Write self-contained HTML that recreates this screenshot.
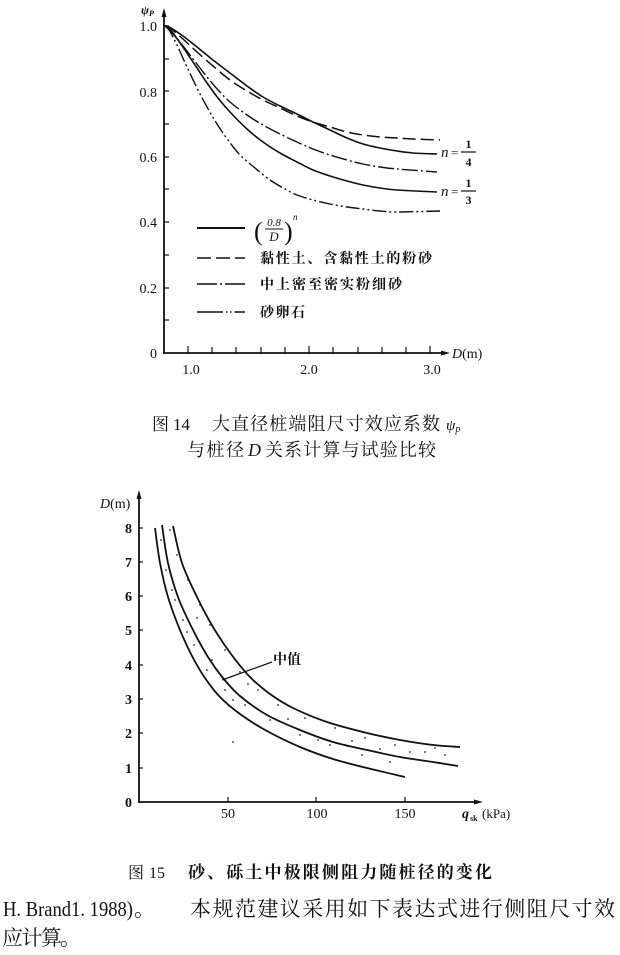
<!DOCTYPE html>
<html><head><meta charset="utf-8"><style>
html,body{margin:0;padding:0;background:#fff;}
svg{display:block;}
.t{font-family:"Liberation Serif","Noto Serif CJK SC",serif;fill:#111;}
.c{font-family:"Liberation Serif","Noto Serif CJK SC",serif;fill:#111;}
.b{font-family:"Liberation Serif","Noto Serif CJK SC",serif;fill:#111;font-weight:bold;}
</style></head><body>
<svg id="sv" width="620" height="955" viewBox="0 0 620 955" xmlns="http://www.w3.org/2000/svg">
<rect width="620" height="955" fill="#fff"/>

<!-- ===== TOP CHART ===== -->
<g stroke="#111" fill="none">
  <line x1="164" y1="354" x2="164" y2="14" stroke-width="1.8"/>
  <polygon points="164,8 161.5,17 166.5,17" fill="#111" stroke="none"/>
  <line x1="163" y1="353" x2="444" y2="353" stroke-width="1.8"/>
  <polygon points="450,353 441,350.5 441,355.5" fill="#111" stroke="none"/>
  <g stroke-width="1.2">
    <line x1="164" y1="320" x2="169" y2="320"/>
    <line x1="164" y1="288" x2="169" y2="288"/>
    <line x1="164" y1="255" x2="169" y2="255"/>
    <line x1="164" y1="222" x2="169" y2="222"/>
    <line x1="164" y1="189" x2="169" y2="189"/>
    <line x1="164" y1="157" x2="169" y2="157"/>
    <line x1="164" y1="124" x2="169" y2="124"/>
    <line x1="164" y1="91" x2="169" y2="91"/>
    <line x1="164" y1="59" x2="169" y2="59"/>
    <line x1="164" y1="26" x2="169" y2="26"/>
  </g>
  <g stroke-width="1.2">
    <line x1="188" y1="346" x2="188" y2="353"/>
    <line x1="212" y1="347" x2="212" y2="353"/>
    <line x1="236" y1="347" x2="236" y2="353"/>
    <line x1="261" y1="347" x2="261" y2="353"/>
    <line x1="285" y1="347" x2="285" y2="353"/>
    <line x1="309" y1="346" x2="309" y2="353"/>
    <line x1="333" y1="347" x2="333" y2="353"/>
    <line x1="358" y1="347" x2="358" y2="353"/>
    <line x1="382" y1="347" x2="382" y2="353"/>
    <line x1="406" y1="347" x2="406" y2="353"/>
    <line x1="430" y1="346" x2="430" y2="353"/>
  </g>
  <polyline class="sm" stroke-width="1.6" points="165,26 169,27 183,36 197,47 213,60 230,73 247,86 263,97 280,106 297,114 313,122 330,130 347,138 363,144 380,148 397,151 413,153 437,154"/>
  <polyline class="sm" stroke-width="1.5" stroke-dasharray="13,5" points="165,26 169,27 183,39 197,52 213,66 230,80 247,91 263,100 280,108 297,116 313,122 330,127 347,132 363,135 380,137 397,138 413,139 440,140"/>
  <polyline class="sm" stroke-width="1.4" stroke-dasharray="16,3,2,3" points="165,26 169,28 180,42 190,55 200,68 207,77 218,90 230,102 247,115 263,125 280,134 297,142 313,149 330,155 347,160 363,164 380,167 397,169 437,172"/>
  <polyline class="sm" stroke-width="1.6" points="165,26 169,29 178,40 187,53 197,68 207,83 218,98 230,112 247,129 263,142 280,153 297,162 313,170 330,176 347,181 363,185 380,188 397,190 437,192"/>
  <polyline class="sm" stroke-width="1.4" stroke-dasharray="14,3,2,3,2,3" points="165,26 169,30 173,37 177,45 182,56 187,67 197,88 207,107 217,124 228,140 240,155 255,168 270,180 285,189 297,195 313,200 330,204 347,207 363,209 380,211 397,212 440,211"/>
  <line x1="197" y1="228" x2="245" y2="228" stroke-width="2"/>
  <line x1="197" y1="258" x2="245" y2="258" stroke-width="1.4" stroke-dasharray="14,5"/>
  <line x1="197" y1="284" x2="245" y2="284" stroke-width="1.4" stroke-dasharray="20,3,2,3"/>
  <line x1="197" y1="312" x2="245" y2="312" stroke-width="1.4" stroke-dasharray="26,3,1.5,2.5,1.5,3"/>
  <line x1="461" y1="152" x2="476" y2="152" stroke-width="1.2"/>
  <line x1="461" y1="191" x2="476" y2="191" stroke-width="1.2"/>
  <line x1="265" y1="229" x2="283" y2="229" stroke-width="1"/>
</g>

<text class="t" x="141" y="14" font-size="12" font-style="italic" font-weight="bold">ψ<tspan font-size="8" dy="2">P</tspan></text>
<g class="t" font-size="14" text-anchor="end">
  <text x="157" y="31">1.0</text>
  <text x="157" y="97">0.8</text>
  <text x="157" y="162">0.6</text>
  <text x="157" y="227">0.4</text>
  <text x="157" y="293">0.2</text>
  <text x="157" y="358">0</text>
</g>
<g class="t" font-size="14" text-anchor="middle">
  <text x="191" y="374">1.0</text>
  <text x="309" y="374">2.0</text>
  <text x="432" y="374">3.0</text>
</g>
<text class="t" x="452" y="358" font-size="14"><tspan font-style="italic">D</tspan>(m)</text>

<text class="t" x="441" y="157" font-size="15" font-style="italic">n</text>
<text class="t" x="451" y="157" font-size="13">=</text>
<text class="t" x="468.5" y="148" font-size="12" text-anchor="middle" font-weight="bold">1</text>
<text class="t" x="468.5" y="166" font-size="12" text-anchor="middle" font-weight="bold">4</text>
<text class="t" x="441" y="196" font-size="15" font-style="italic">n</text>
<text class="t" x="451" y="196" font-size="13">=</text>
<text class="t" x="468.5" y="187" font-size="12" text-anchor="middle" font-weight="bold">1</text>
<text class="t" x="468.5" y="204" font-size="12" text-anchor="middle" font-weight="bold">3</text>

<text class="t" x="254" y="240" font-size="26">(</text>
<text class="t" x="274" y="226" font-size="11" font-style="italic" text-anchor="middle">0.8</text>
<text class="t" x="274" y="241" font-size="13" font-style="italic" text-anchor="middle">D</text>
<text class="t" x="284" y="240" font-size="26">)</text>
<text class="t" x="293" y="220" font-size="9" font-style="italic">n</text>
<text class="b" x="260" y="263" font-size="14" textLength="172" lengthAdjust="spacing">黏性土、含黏性土的粉砂</text>
<text class="b" x="260" y="289" font-size="14" textLength="142" lengthAdjust="spacing">中上密至密实粉细砂</text>
<text class="b" x="260" y="317" font-size="14" textLength="45" lengthAdjust="spacing">砂卵石</text>

<text class="c" x="152" y="430" font-size="17">图</text>
<text class="c" x="173" y="430" font-size="17">14</text>
<text class="c" x="212" y="430" font-size="18" textLength="228" lengthAdjust="spacing">大直径桩端阻尺寸效应系数</text>
<text class="c" x="446" y="430" font-size="15" font-style="italic">ψ<tspan font-size="10" dy="2">p</tspan></text>
<text class="c" x="187" y="456" font-size="18" textLength="57" lengthAdjust="spacing">与桩径</text>
<text class="c" x="248" y="456" font-size="18" font-style="italic">D</text>
<text class="c" x="265" y="456" font-size="18" textLength="171" lengthAdjust="spacing">关系计算与试验比较</text>

<!-- ===== BOTTOM CHART ===== -->
<g stroke="#111" fill="none">
  <line x1="139" y1="803" x2="139" y2="497" stroke-width="1.8"/>
  <polygon points="139,490 136.5,499 141.5,499" fill="#111" stroke="none"/>
  <line x1="138" y1="802" x2="476" y2="802" stroke-width="1.8"/>
  <polygon points="483,802 474,799.5 474,804.5" fill="#111" stroke="none"/>
  <g stroke-width="1.2">
    <line x1="139" y1="768" x2="143" y2="768"/>
    <line x1="139" y1="733" x2="143" y2="733"/>
    <line x1="139" y1="699" x2="143" y2="699"/>
    <line x1="139" y1="665" x2="143" y2="665"/>
    <line x1="139" y1="630" x2="143" y2="630"/>
    <line x1="139" y1="596" x2="143" y2="596"/>
    <line x1="139" y1="562" x2="143" y2="562"/>
    <line x1="139" y1="528" x2="143" y2="528"/>
    <line x1="228" y1="797" x2="228" y2="802"/>
    <line x1="316" y1="797" x2="316" y2="802"/>
    <line x1="405" y1="797" x2="405" y2="802"/>
  </g>
  <polyline class="sm" stroke-width="1.8" points="155,528 160,563 168,597 180,630 192,656 205,678 220,697 240,714 267,731 300,747 333,759 367,768 405,777"/>
  <polyline class="sm" stroke-width="1.8" points="162,525 168,563 178,597 192,628 208,657 223,678 240,696 267,715 300,730 333,742 367,750 400,757 433,762 458,766"/>
  <polyline class="sm" stroke-width="1.8" points="173,526 182,563 197,597 213,627 231,654 250,677 270,694 293,708 327,722 367,733 400,740 433,745 460,747"/>
  <line x1="222" y1="680" x2="272" y2="662" stroke-width="1.2"/>
</g>
<g fill="#222">
  <circle cx="161" cy="540" r="0.9"/><circle cx="166" cy="570" r="0.9"/><circle cx="175" cy="600" r="0.9"/>
  <circle cx="183" cy="620" r="0.9"/><circle cx="194" cy="645" r="0.9"/><circle cx="207" cy="670" r="0.9"/>
  <circle cx="225" cy="690" r="0.9"/><circle cx="245" cy="705" r="0.9"/><circle cx="270" cy="720" r="0.9"/>
  <circle cx="300" cy="735" r="0.9"/><circle cx="330" cy="745" r="0.9"/><circle cx="362" cy="755" r="0.9"/>
  <circle cx="390" cy="762" r="0.9"/><circle cx="170" cy="530" r="0.9"/><circle cx="177" cy="555" r="0.9"/>
  <circle cx="188" cy="580" r="0.9"/><circle cx="200" cy="605" r="0.9"/><circle cx="210" cy="625" r="0.9"/>
  <circle cx="225" cy="650" r="0.9"/><circle cx="240" cy="672" r="0.9"/><circle cx="258" cy="690" r="0.9"/>
  <circle cx="278" cy="705" r="0.9"/><circle cx="305" cy="718" r="0.9"/><circle cx="335" cy="728" r="0.9"/>
  <circle cx="365" cy="738" r="0.9"/><circle cx="395" cy="745" r="0.9"/><circle cx="425" cy="752" r="0.9"/>
  <circle cx="445" cy="755" r="0.9"/><circle cx="172" cy="590" r="0.9"/><circle cx="187" cy="632" r="0.9"/>
  <circle cx="212" cy="660" r="0.9"/><circle cx="233" cy="700" r="0.9"/><circle cx="262" cy="712" r="0.9"/>
  <circle cx="318" cy="740" r="0.9"/><circle cx="352" cy="741" r="0.9"/><circle cx="380" cy="749" r="0.9"/>
  <circle cx="410" cy="752" r="0.9"/><circle cx="288" cy="719" r="0.9"/><circle cx="248" cy="684" r="0.9"/>
  <circle cx="197" cy="618" r="0.9"/><circle cx="233" cy="742" r="0.9"/><circle cx="435" cy="748" r="0.9"/>
</g>
<g class="t" font-size="14" text-anchor="end" font-weight="bold">
  <text x="132" y="533">8</text>
  <text x="132" y="567">7</text>
  <text x="132" y="601">6</text>
  <text x="132" y="635">5</text>
  <text x="132" y="670">4</text>
  <text x="132" y="704">3</text>
  <text x="132" y="738">2</text>
  <text x="132" y="773">1</text>
  <text x="132" y="807">0</text>
</g>
<g class="t" font-size="14" text-anchor="middle">
  <text x="228" y="818">50</text>
  <text x="317" y="818">100</text>
  <text x="405" y="818">150</text>
</g>
<text class="t" x="100" y="508" font-size="14"><tspan font-style="italic">D</tspan>(m)</text>
<text class="t" x="462" y="818" font-size="14" font-style="italic" font-weight="bold">q</text>
<text class="t" x="470" y="821" font-size="8" font-weight="bold">sk</text>
<text class="t" x="482" y="818" font-size="13">(kPa)</text>
<text class="b" x="273" y="664" font-size="14">中值</text>

<text class="c" x="128" y="878" font-size="16">图</text>
<text class="c" x="149" y="878" font-size="16">15</text>
<text class="b" x="188" y="878" font-size="17" textLength="304" lengthAdjust="spacing">砂、砾土中极限侧阻力随桩径的变化</text>

<text class="c" x="3" y="916" font-size="21" textLength="130" lengthAdjust="spacingAndGlyphs">H. Brand1. 1988)</text>
<text class="c" x="134" y="916" font-size="21">。</text>
<text class="c" x="190" y="916" font-size="21" textLength="425" lengthAdjust="spacing">本规范建议采用如下表达式进行侧阻尺寸效</text>
<text class="c" x="2" y="945" font-size="21" textLength="60" lengthAdjust="spacing">应计算</text>
<text class="c" x="60" y="945" font-size="21">。</text>
</svg>
<script>
(function(){
  var ns="http://www.w3.org/2000/svg";
  var pls=document.querySelectorAll("polyline.sm");
  for(var k=0;k<pls.length;k++){
    var pl=pls[k];
    var raw=pl.getAttribute("points").trim().split(/\s+/);
    var p=raw.map(function(s){var a=s.split(",");return [parseFloat(a[0]),parseFloat(a[1])];});
    var d="M"+p[0][0]+","+p[0][1];
    for(var i=0;i<p.length-1;i++){
      var p0=p[i-1]||p[i],p1=p[i],p2=p[i+1],p3=p[i+2]||p2;
      var c1x=p1[0]+(p2[0]-p0[0])/6,c1y=p1[1]+(p2[1]-p0[1])/6;
      var c2x=p2[0]-(p3[0]-p1[0])/6,c2y=p2[1]-(p3[1]-p1[1])/6;
      d+=" C"+c1x.toFixed(2)+","+c1y.toFixed(2)+" "+c2x.toFixed(2)+","+c2y.toFixed(2)+" "+p2[0]+","+p2[1];
    }
    var path=document.createElementNS(ns,"path");
    path.setAttribute("d",d);
    path.setAttribute("fill","none");
    path.setAttribute("stroke","#111");
    ["stroke-width","stroke-dasharray"].forEach(function(a){if(pl.getAttribute(a))path.setAttribute(a,pl.getAttribute(a));});
    pl.parentNode.replaceChild(path,pl);
  }
})();
</script>
</body></html>
